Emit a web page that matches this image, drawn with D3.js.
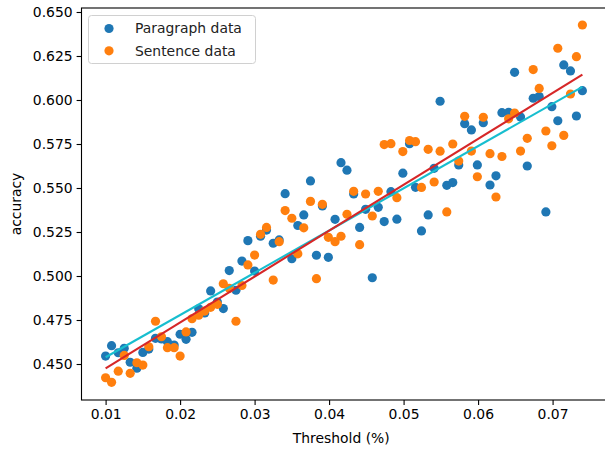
<!DOCTYPE html>
<html>
<head>
<meta charset="utf-8">
<script src="https://cdn.jsdelivr.net/npm/d3@7"></script>
<style>
  body { margin: 0; background: #fff; }
  text { font-family: "DejaVu Sans", sans-serif; fill: #000; }
</style>
</head>
<body>
<div id="chart"></div>
<script>
// ******* Data *******
var threshold = [
  0.0100, 0.0108, 0.0117, 0.0125, 0.0133, 0.0142, 0.0150, 0.0158, 0.0167, 0.0175,
  0.0183, 0.0192, 0.0200, 0.0208, 0.0216, 0.0225, 0.0233, 0.0241, 0.0250, 0.0258,
  0.0266, 0.0275, 0.0283, 0.0291, 0.0300, 0.0308, 0.0316, 0.0325, 0.0333, 0.0341,
  0.0350, 0.0358, 0.0366, 0.0375, 0.0383, 0.0391, 0.0399, 0.0408, 0.0416, 0.0424,
  0.0433, 0.0441, 0.0449, 0.0458, 0.0466, 0.0474, 0.0483, 0.0491, 0.0499, 0.0508,
  0.0516, 0.0524, 0.0533, 0.0541, 0.0549, 0.0558, 0.0566, 0.0574, 0.0582, 0.0591,
  0.0599, 0.0607, 0.0616, 0.0624, 0.0632, 0.0641, 0.0649, 0.0657, 0.0666, 0.0674,
  0.0682, 0.0691, 0.0699, 0.0707, 0.0715, 0.0724, 0.0732, 0.0740
];
var paragraphAcc = [
  0.4545, 0.4604, 0.4564, 0.4589, 0.4510, 0.4476, 0.4566, 0.4585, 0.4646, 0.4642,
  0.4627, 0.4608, 0.4669, 0.4640, 0.4680, 0.4814, 0.4790, 0.4915, 0.4852, 0.4815,
  0.5031, 0.4919, 0.5085, 0.5201, 0.5028, 0.5226, 0.5261, 0.5186, 0.5205, 0.5468,
  0.5098, 0.5287, 0.5347, 0.5540, 0.5118, 0.5398, 0.5106, 0.5322, 0.5644, 0.5601,
  0.5466, 0.5276, 0.5379, 0.4990, 0.5390, 0.5309, 0.5479, 0.5323, 0.5584, 0.5752,
  0.5504, 0.5256, 0.5347, 0.5612, 0.5993, 0.5515, 0.5531, 0.5631, 0.5865, 0.5830,
  0.5631, 0.5871, 0.5517, 0.5569, 0.5928, 0.5930, 0.6157, 0.5903, 0.5625, 0.6010,
  0.6020, 0.5364, 0.5962, 0.5882, 0.6199, 0.6165, 0.5909, 0.6053
];
var sentenceAcc = [
  0.4422, 0.4396, 0.4459, 0.4549, 0.4447, 0.4507, 0.4494, 0.4598, 0.4743, 0.4655,
  0.4593, 0.4593, 0.4545, 0.4682, 0.4757, 0.4777, 0.4801, 0.4822, 0.4839, 0.4956,
  0.4930, 0.4743, 0.4946, 0.5063, 0.5119, 0.5237, 0.5276, 0.4977, 0.5195, 0.5372,
  0.5328, 0.5126, 0.5274, 0.5424, 0.4985, 0.5407, 0.5220, 0.5195, 0.5226, 0.5351,
  0.5481, 0.5178, 0.5466, 0.5341, 0.5481, 0.5747, 0.5752, 0.5445, 0.5707, 0.5770,
  0.5763, 0.5503, 0.5720, 0.5534, 0.5709, 0.5364, 0.5750, 0.5653, 0.5907, 0.5710,
  0.5564, 0.5902, 0.5695, 0.5449, 0.5679, 0.5893, 0.5926, 0.5710, 0.5782, 0.6173,
  0.6066, 0.5824, 0.5740, 0.6294, 0.5799, 0.6034, 0.6246, 0.6426
];
var xTicks = [0.01, 0.02, 0.03, 0.04, 0.05, 0.06, 0.07];
var yTicks = [0.450, 0.475, 0.500, 0.525, 0.550, 0.575, 0.600, 0.625, 0.650];
var keys = ["Paragraph data", "Sentence data"];
var colour = ["#1f77b4", "#ff7f0e"];
var fitColour = ["#17becf", "#d62728"];

// ******* Chart varaible set up *******
var w = 605;
var h = 449;
var plotLeft = 81.5, plotRight = 606, plotTop = 8, plotBottom = 400;
var dotR = 4.6;
var x = d3.scaleLinear().domain([0.006765, 0.07717]).range([plotLeft, plotRight]);
var y = d3.scaleLinear().domain([0.42955, 0.65227]).range([plotBottom, plotTop]);
var svg = d3.select("#chart").append("svg").attr("width", w).attr("height", h);

var series = [paragraphAcc, sentenceAcc].map((vals, k) => ({
  name: keys[k],
  points: threshold.map((t, i) => ({ x: t, y: vals[i] }))
}));

// least squares fit for each series
function fit(points) {
  var mx = d3.mean(points, d => d.x);
  var my = d3.mean(points, d => d.y);
  var sxy = d3.sum(points, d => (d.x - mx) * (d.y - my));
  var sxx = d3.sum(points, d => (d.x - mx) * (d.x - mx));
  var b = sxy / sxx;
  return { a: my - b * mx, b: b };
}

// ******* Chart code: axes *******
svg.append("rect")
  .attr("x", plotLeft).attr("y", plotTop)
  .attr("width", plotRight - plotLeft).attr("height", plotBottom - plotTop)
  .attr("fill", "none")
  .attr("stroke", "#000")
  .attr("stroke-width", 1.1);

var xAxis = svg.append("g")
  .attr("transform", `translate(0,${plotBottom})`)
  .call(d3.axisBottom(x).tickValues(xTicks).tickSize(4.9).tickPadding(4).tickFormat(d3.format(".2f")));
var yAxis = svg.append("g")
  .attr("transform", `translate(${plotLeft},0)`)
  .call(d3.axisLeft(y).tickValues(yTicks).tickSize(4.9).tickPadding(4).tickFormat(d3.format(".3f")));
[xAxis, yAxis].forEach(a => {
  a.select(".domain").remove();
  a.selectAll(".tick line").attr("stroke", "#000").attr("stroke-width", 1.1);
  a.selectAll(".tick text").attr("font-size", 13.9).attr("font-family", "DejaVu Sans").attr("fill", "#000");
});

svg.append("text")
  .attr("x", (plotLeft + 601) / 2)
  .attr("y", 443)
  .attr("text-anchor", "middle")
  .attr("font-size", 13.9)
  .text("Threshold (%)");

svg.append("text")
  .attr("transform", `translate(21,${(plotTop + plotBottom) / 2}) rotate(-90)`)
  .attr("text-anchor", "middle")
  .attr("font-size", 13.9)
  .text("accuracy");

// ******* Chart code: Drawing Data *******
series.forEach((s, k) => {
  svg.append("g")
    .selectAll("circle")
    .data(s.points)
    .enter()
    .append("circle")
    .attr("cx", d => x(d.x))
    .attr("cy", d => y(d.y))
    .attr("r", dotR)
    .style("fill", colour[k]);
});

series.forEach((s, k) => {
  var f = fit(s.points);
  var ends = d3.extent(s.points, d => d.x);
  svg.append("line")
    .attr("x1", x(ends[0]))
    .attr("y1", y(f.a + f.b * ends[0]))
    .attr("x2", x(ends[1]))
    .attr("y2", y(f.a + f.b * ends[1]))
    .style("stroke", fitColour[k])
    .style("stroke-width", 2.1);
});

// ******* Chart code: Legend *******
var legend = svg.append("g");
legend.append("rect")
  .attr("x", 88.5).attr("y", 15.5)
  .attr("width", 167).attr("height", 48)
  .attr("rx", 3)
  .style("fill", "#fff")
  .style("fill-opacity", 0.8)
  .style("stroke", "#d0d0d0");

legend.selectAll("mydots")
  .data(keys)
  .enter()
  .append("circle")
  .attr("cx", 109)
  .attr("cy", (d, i) => 28.5 + i * 22.3)
  .attr("r", dotR)
  .style("fill", (d, i) => colour[i]);

legend.selectAll("mylabels")
  .data(keys)
  .enter()
  .append("text")
  .attr("x", 135)
  .attr("y", (d, i) => 28.5 + i * 22.3)
  .attr("dy", "0.35em")
  .attr("font-size", 13.9)
  .style("fill", "#222")
  .text(d => d);
</script>
</body>
</html>
